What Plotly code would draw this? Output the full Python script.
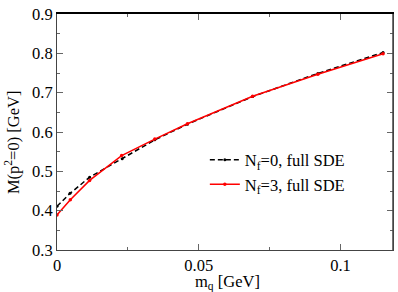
import plotly.graph_objects as go

mq_nf0 = [0.0, 0.0046, 0.0115, 0.023, 0.0345, 0.046, 0.069, 0.092, 0.115]
M_nf0 = [0.411, 0.444, 0.485, 0.532, 0.580, 0.620, 0.690, 0.749, 0.802]
mq_nf3 = [0.0, 0.0047, 0.0115, 0.0228, 0.0345, 0.046, 0.069, 0.092, 0.115]
M_nf3 = [0.389, 0.428, 0.477, 0.540, 0.582, 0.621, 0.691, 0.747, 0.799]
x_ticks = [0, 0.05, 0.1]
x_ticklabels = ["0", "0.05", "0.1"]
y_ticks = [0.3, 0.4, 0.5, 0.6, 0.7, 0.8, 0.9]
y_ticklabels = ["0.3", "0.4", "0.5", "0.6", "0.7", "0.8", "0.9"]
x_range = [0, 0.1185]
y_range = [0.3, 0.9]

font = "Liberation Serif, Times New Roman, serif"

fig = go.Figure()
fig.add_trace(go.Scatter(x=mq_nf0, y=M_nf0, mode="lines+markers",
                         name="N<sub>f</sub>=0, full SDE",
                         line=dict(color="black", width=1.5, dash="5px,3px"),
                         marker=dict(color="black", size=3)))
fig.add_trace(go.Scatter(x=mq_nf3, y=M_nf3, mode="lines+markers",
                         name="N<sub>f</sub>=3, full SDE",
                         line=dict(color="#ff0000", width=1.5),
                         marker=dict(color="#ff0000", size=3.5)))

axis_common = dict(showline=True, linecolor="#444", linewidth=1,
                   ticks="inside", ticklen=6, tickwidth=1, tickcolor="#666",
                   showgrid=False, zeroline=False, ticklabeloverflow="allow",
                   tickfont=dict(family=font, size=16.5, color="black"))
xminor = dict(ticks="inside", ticklen=3, dtick=0.025, tick0=0, tickcolor="#666", showgrid=False)
yminor = dict(ticks="inside", ticklen=3, dtick=0.05, tick0=0.3, tickcolor="#666", showgrid=False)

fig.update_layout(
    xaxis=dict(range=x_range, tickvals=x_ticks, ticktext=x_ticklabels, minor=xminor, **axis_common),
    yaxis=dict(range=y_range, tickvals=y_ticks, ticktext=y_ticklabels, minor=yminor, **axis_common),
    xaxis2=dict(range=x_range, tickvals=x_ticks, minor=xminor, overlaying="x", side="top",
                anchor="y", showticklabels=False, **axis_common),
    yaxis2=dict(range=y_range, tickvals=y_ticks, minor=yminor, overlaying="y", side="right",
                anchor="x", showticklabels=False, **axis_common),
)
# invisible helper trace so the mirrored axes are drawn
fig.add_trace(go.Scatter(x=[x_range[0]], y=[y_range[0]], xaxis="x2", yaxis="y2",
                         mode="markers", marker=dict(opacity=0), showlegend=False,
                         hoverinfo="skip"))
fig.layout.xaxis2.linecolor = "black"
fig.layout.xaxis2.linewidth = 1.5

# right frame edge
fig.add_shape(type="line", xref="paper", yref="paper", x0=1, x1=1, y0=0, y1=1,
              line=dict(color="#444", width=1.5))

fig.add_annotation(text="M(p<sup>2</sup>=0) [GeV]", xref="paper", yref="paper",
                   x=-0.134, y=0.457, xanchor="center", yanchor="middle",
                   textangle=-90, showarrow=False,
                   font=dict(family=font, size=16.5, color="black"))
fig.add_annotation(text="m<sub>q</sub> [GeV]", xref="paper", yref="paper",
                   x=0.506, y=-0.138, xanchor="center", yanchor="middle",
                   showarrow=False,
                   font=dict(family=font, size=16.5, color="black"))
fig.update_layout(width=398, height=292, margin=dict(l=57, r=5, t=7, b=42),
                  plot_bgcolor="white", paper_bgcolor="white",
                  font=dict(family=font, size=16.5, color="black"),
                  legend=dict(x=0.44, y=0.455, xanchor="left", yanchor="top",
                              bgcolor="rgba(0,0,0,0)", font=dict(family=font, size=16.5),
                              itemwidth=30, tracegroupgap=0))
fig.write_html("out.html", config={"displayModeBar": False},
               post_script=("document.body.style.margin='0';"
                            "document.body.style.overflow='hidden';"
                            "document.documentElement.style.overflow='hidden';"))
